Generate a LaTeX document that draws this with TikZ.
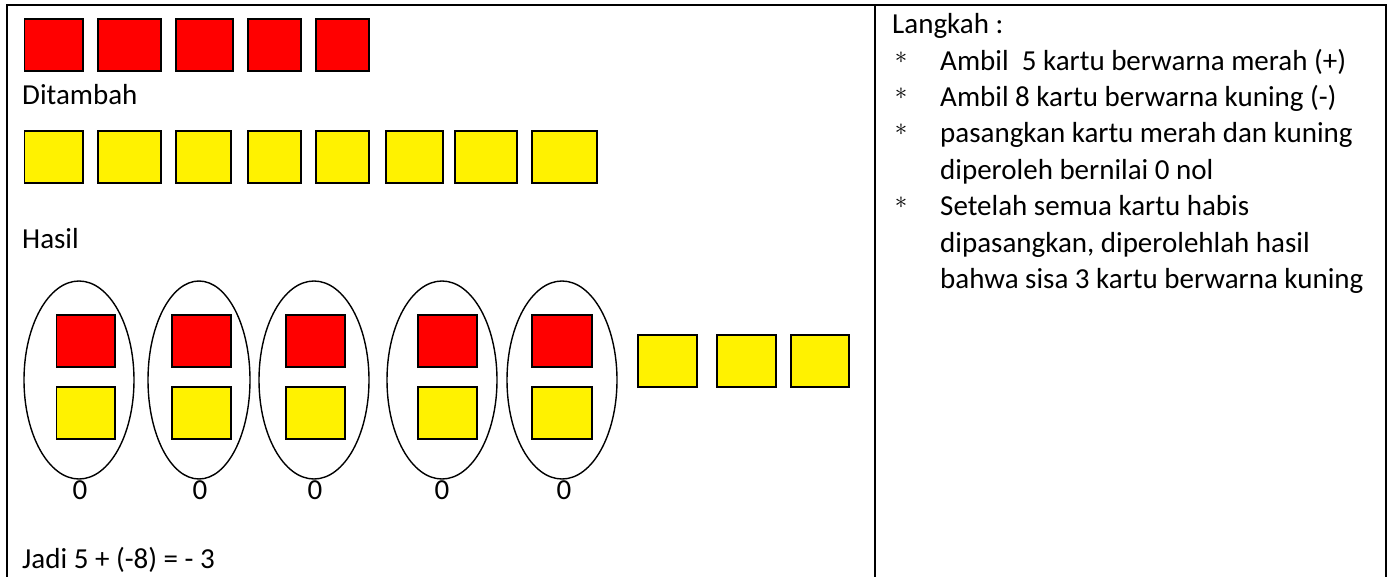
\documentclass[tikz,border=0pt]{standalone}
\usepackage{fontspec}
\setmainfont{Carlito}
\usetikzlibrary{shapes.geometric}
\newcommand\crd[6]{\node[#2,minimum width={(#5-#3)*1pt},minimum height={(#6-#4)*1pt}] (#1) at (#3,#4) {};}
\begin{document}
\begin{tikzpicture}[x=1pt,y=-1pt,
  card/.style={draw=black,line width=1.3pt,inner sep=0pt,outer sep=0pt,anchor=north west},
  redcard/.style={card,fill=red},
  yelcard/.style={card,fill=yellow},
  pairoval/.style={draw=black,line width=1.4pt,ellipse,inner sep=0pt,minimum height=198pt},
  txt/.style={inner sep=0pt,anchor=base west,font=\fontsize{29}{36}\selectfont},
  zero/.style={inner sep=0pt,anchor=base,font=\fontsize{29}{36}\selectfont},
  bul/.style={inner sep=0pt,anchor=base,text height=14pt,text depth=0pt,font=\fontsize{30}{36}\selectfont},
  rule/.style={line width=2pt,black}]
\useasboundingbox (0,0) rectangle (1392,577);
% table
\draw[rule] (6,5) -- (1387,5);
\draw[rule] (7,5) -- (7,580);
\draw[rule] (875,5) -- (875,580);
\draw[rule] (1386,5) -- (1386,580);
% red row
\crd{r1}{redcard}{24.5}{19}{83}{71}
\crd{r2}{redcard}{98}{19}{161}{71}
\crd{r3}{redcard}{176}{19}{233}{71}
\crd{r4}{redcard}{248}{19}{301}{71}
\crd{r5}{redcard}{316}{19}{369}{71}
\node[txt] (ditambah) at (22,105) {Ditambah};
% yellow row
\crd{y1}{yelcard}{24.5}{131}{83}{183}
\crd{y2}{yelcard}{98}{131}{161}{183}
\crd{y3}{yelcard}{176}{131}{231}{183}
\crd{y4}{yelcard}{248}{131}{301}{183}
\crd{y5}{yelcard}{316}{131}{369}{183}
\crd{y6}{yelcard}{386}{131}{443}{183}
\crd{y7}{yelcard}{455}{131}{517}{183}
\crd{y8}{yelcard}{532}{131}{597}{183}
\node[txt] (hasil) at (22,249) {Hasil};
% pairs
\node[pairoval,minimum width=110pt] (e1) at (79,380) {};
\node[pairoval,minimum width=102pt] (e2) at (199,380) {};
\node[pairoval,minimum width=110pt] (e3) at (314,380) {};
\node[pairoval,minimum width=110pt] (e4) at (442,380) {};
\node[pairoval,minimum width=110pt] (e5) at (562,380) {};
\crd{pr1}{redcard}{56.5}{315}{115}{367}
\crd{pr2}{redcard}{172}{315}{231}{367}
\crd{pr3}{redcard}{286}{315}{345}{367}
\crd{pr4}{redcard}{418}{315}{477}{367}
\crd{pr5}{redcard}{532}{315}{592}{367}
\crd{py1}{yelcard}{56.5}{387}{115}{439}
\crd{py2}{yelcard}{172}{387}{231}{439}
\crd{py3}{yelcard}{286}{387}{345}{439}
\crd{py4}{yelcard}{418}{387}{477}{439}
\crd{py5}{yelcard}{532}{387}{592}{439}
\node[zero] (z1) at (80,499) {0};
\node[zero] (z2) at (200,499) {0};
\node[zero] (z3) at (315,499) {0};
\node[zero] (z4) at (442,499) {0};
\node[zero] (z5) at (564,499) {0};
% remaining yellow
\crd{ry1}{yelcard}{638}{335}{697}{387}
\crd{ry2}{yelcard}{717}{335}{776}{387}
\crd{ry3}{yelcard}{791}{335}{849}{387}
\node[txt] (jadi) at (22,568) {Jadi 5 + (-8) = - 3};
% right column
\node[txt] (langkah) at (892,34) {Langkah :};
\node[bul] (b1) at (901,64) {$\ast$};
\node[bul] (b2) at (901,100) {$\ast$};
\node[bul] (b3) at (901,136) {$\ast$};
\node[bul] (b4) at (901,209) {$\ast$};
\node[txt] (s1) at (940,71) {Ambil\ \ 5 kartu berwarna merah (+)};
\node[txt] (s2) at (940,107) {Ambil 8 kartu berwarna kuning (-)};
\node[txt] (s3a) at (940,143) {pasangkan kartu merah dan kuning};
\node[txt] (s3b) at (940,180) {diperoleh bernilai 0 nol};
\node[txt] (s4a) at (940,216) {Setelah semua kartu habis};
\node[txt] (s4b) at (940,253) {dipasangkan, diperolehlah hasil};
\node[txt] (s4c) at (940,289) {bahwa sisa 3 kartu berwarna kuning};
\end{tikzpicture}
\end{document}
